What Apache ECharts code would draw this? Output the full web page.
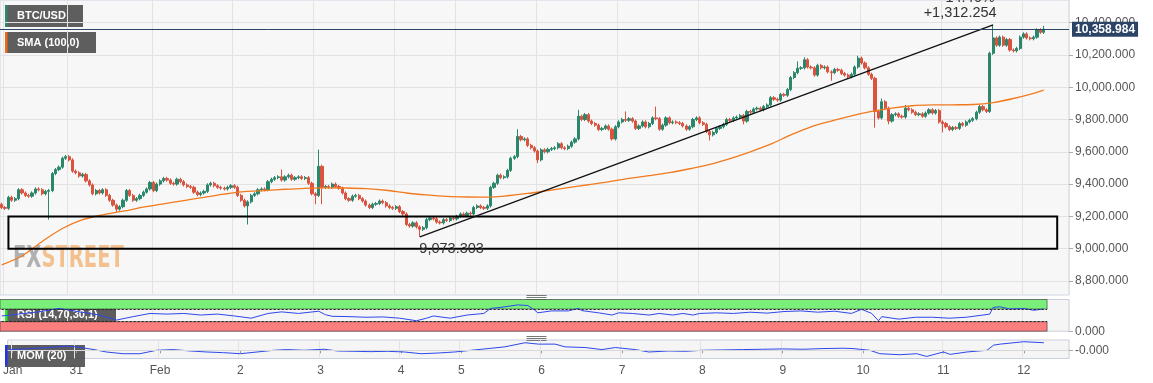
<!DOCTYPE html>
<html><head><meta charset="utf-8">
<script src="https://cdn.jsdelivr.net/npm/echarts@6/dist/echarts.min.js"></script>
<style>html,body{margin:0;padding:0;background:#fff;}#c{width:1153px;height:383px;}</style>
</head><body><div id="c"></div>
<script>
// ---- tick labels / categories ----
const dayLabels = ['Jan','31','Feb','2','3','4','5','6','7','8','9','10','11','12'];
const dayIdx = [1,20,45,69,93,117,135,159,183,207,231,255,279,303];
const slotCount = 317;

// ---- hourly BTC/USD closes ----
const firstOpen = 9275;
const closes = [
9255,9250,9318,9300,9310,9365,9345,9330,9325,9345,
9370,9365,9340,9355,9360,9465,9490,9505,9560,9570,
9550,9480,9470,9450,9460,9420,9395,9340,9360,9345,
9365,9330,9300,9270,9245,9260,9300,9360,9330,9300,
9310,9330,9350,9370,9410,9360,9400,9420,9435,9425,
9405,9400,9430,9415,9395,9385,9380,9350,9335,9345,
9355,9395,9405,9390,9380,9375,9370,9380,9390,9380,
9330,9300,9265,9290,9330,9340,9365,9370,9365,9415,
9430,9440,9445,9425,9445,9455,9430,9440,9445,9435,
9440,9405,9340,9330,9510,9380,9385,9380,9400,9385,
9375,9345,9310,9300,9325,9330,9310,9295,9270,9255,
9275,9280,9295,9285,9265,9255,9250,9260,9230,9215,
9150,9140,9160,9135,9120,9130,9180,9190,9185,9165,
9160,9180,9175,9190,9185,9200,9215,9205,9220,9215,
9255,9265,9255,9250,9265,9380,9405,9455,9440,9445,
9485,9560,9570,9695,9675,9680,9640,9625,9605,9550,
9612,9600,9615,9620,9625,9650,9625,9620,9635,9660,
9680,9820,9800,9830,9790,9775,9765,9738,9745,9760,
9740,9680,9755,9785,9800,9795,9805,9790,9745,9760,
9785,9755,9775,9810,9805,9740,9765,9810,9780,9785,
9780,9775,9760,9740,9755,9800,9810,9780,9770,9725,
9705,9720,9745,9755,9770,9800,9795,9810,9815,9825,
9790,9850,9845,9865,9870,9860,9880,9890,9935,9925,
9920,9955,9950,9985,10060,10090,10117,10120,10170,10125,
10120,10075,10135,10120,10125,10095,10090,10110,10105,10085,
10075,10065,10080,10125,10180,10150,10120,10080,10055,9850,
9810,9910,9870,9790,9830,9835,9820,9815,9870,9860,
9845,9830,9835,9820,9840,9860,9840,9855,9785,9775,
9755,9738,9750,9745,9775,9765,9785,9795,9805,9845,
9880,9860,9850,10210,10305,10260,10310,10260,10295,10230,
10225,10240,10310,10330,10305,10300,10310,10355,10340,10358.984
];
// notable wick extremes
const highX = {83:9490,94:9613,153:9740,171:9860,185:9850,194:9880,236:10160,238:10185,254:10195,261:9930,268:9890,294:10385.557,309:10380};
const lowX = {14:9180,34:9225,73:9150,93:9275,95:9275,124:9073.303,159:9530,210:9670,220:9770,246:10040,259:9750,263:9770,279:9720};
const wick = 10;

// SMA(100)
const smaIdx = [0,6,12,18,24,30,36,42,48,54,60,66,72,78,84,90,96,102,108,114,120,126,132,138,144,150,156,162,168,174,180,186,192,198,204,210,216,222,228,234,240,246,252,258,264,270,276,282,288,294,300,306,309];
const smaVal = [8900,8955,9045,9125,9180,9210,9232,9257,9278,9298,9318,9338,9354,9360,9368,9374,9377,9376,9372,9362,9345,9333,9324,9320,9319,9328,9342,9360,9378,9396,9414,9435,9452,9471,9495,9522,9558,9600,9647,9705,9755,9790,9823,9850,9871,9885,9890,9891,9893,9905,9930,9962,9982];

// RSI(14)
const rsiIdx = [0,5,11,17,23,29,34,39,44,49,54,59,64,69,74,79,83,88,94,96,98,103,108,113,118,123,126,128,133,138,143,145,148,153,156,158,159,163,168,171,172,177,181,183,187,192,195,199,202,205,207,212,217,222,227,232,237,242,247,252,255,258,260,261,266,271,276,281,286,291,293,294,296,299,303,306,309];
const rsiVal = [48,54,61,72,61,51,35,46,56,54,56,51,54,48,41,56,61,56,63,52,47,46,44,45,41,33,41,48,41,51,56,72,75,83,81,67,58,64,64,72,65,58,51,58,56,51,56,51,56,51,56,58,56,60,57,62,64,60,63,56,69,56,33,46,38,44,44,41,44,51,54,75,77,70,72,66,70];

// MOM(20)
const momIdx = [0,5,11,17,20,25,29,34,39,44,49,54,59,64,69,74,79,83,88,94,98,103,108,113,118,123,128,133,138,143,148,154,158,163,166,172,177,181,187,191,197,202,207,213,219,225,231,237,243,249,252,257,260,266,271,274,279,281,286,292,294,296,303,309];
const momVal = [50,80,150,240,200,50,-100,-200,-200,0,40,-40,-100,-140,-200,-100,0,40,0,60,-40,-60,-80,-60,-100,-200,-160,-100,0,100,200,440,360,360,200,160,40,160,40,-100,-40,-60,0,20,40,60,80,60,100,120,100,0,-200,-260,-200,-360,-100,-240,-100,0,300,360,500,440];

// annotations
const lowPoint = [124, 9073.303];
const highPoint = [294, 10385.557];
const lastPrice = 10358.984;
const boxLow = 9000, boxHigh = 9200, boxFrom = 2, boxTo = 313;
const rsiUpper = 70, rsiLower = 30, bandEnd = 310;

// ---- build ----
const fmt3 = v => v.toLocaleString('en-US',{minimumFractionDigits:3, maximumFractionDigits:3});
const cats = Array.from({length: slotCount}, (_, i) => String(i));
const candles = closes.map((c, i) => {
  const o = i === 0 ? firstOpen : closes[i-1];
  const hi = highX[i] !== undefined ? highX[i] : Math.max(o, c) + wick;
  const lo = lowX[i] !== undefined ? lowX[i] : Math.min(o, c) - wick;
  return [o, c, lo, hi];
});
const pairs = (a, b) => a.map((x, i) => [x, b[i]]);
const isDay = i => dayIdx.indexOf(i) >= 0;
const FONT = '"Liberation Sans", Arial, sans-serif';
const GREEN = '#2a876b', RED = '#d9533f';
const diff = highPoint[1] - lowPoint[1];
const pct = diff / lowPoint[1] * 100;

const gridL = 0, gridW = 1069;
const hiddenCat = (g, split) => ({
  gridIndex: g, type: 'category', data: cats, boundaryGap: true,
  axisLine: {show: false}, axisTick: {show: false}, axisLabel: {show: false},
  splitLine: {show: split, interval: (i) => isDay(i), lineStyle: {color: '#e3e3e3'}}
});

const chart = echarts.init(document.getElementById('c'), null, {renderer: 'canvas'});
chart.setOption({
  animation: false,
  textStyle: {fontFamily: FONT},
  grid: [
    {left: gridL, width: gridW, top: 0, height: 295, show: true, backgroundColor: '#f7f7f7', borderColor: '#d0d5e4', borderWidth: 1},
    {left: gridL, width: gridW, top: 22.6, height: 258.4},
    {left: gridL, width: gridW, top: 299.5, height: 31.7, show: true, backgroundColor: '#f5f5f5', borderColor: '#c9cfe0', borderWidth: 1},
    {left: gridL, width: gridW, top: 340, height: 18.5, show: true, backgroundColor: '#f5f5f5', borderColor: '#c9cfe0', borderWidth: 1}
  ],
  xAxis: [
    hiddenCat(0, true),
    hiddenCat(1, false),
    hiddenCat(2, true),
    {
      gridIndex: 3, type: 'category', data: cats, boundaryGap: true,
      axisLine: {show: false},
      axisTick: {show: true, length: 3, alignWithLabel: true, interval: (i) => isDay(i), lineStyle: {color: '#999'}},
      axisLabel: {show: true, interval: (i) => isDay(i), margin: 6, color: '#555', fontSize: 12,
        formatter: (v, i) => { const k = dayIdx.indexOf(i); return k >= 0 ? dayLabels[k] : ''; }},
      splitLine: {show: true, interval: (i) => isDay(i), lineStyle: {color: '#e3e3e3'}}
    }
  ],
  yAxis: [
    {gridIndex: 0, type: 'value', min: 0, max: 1, show: false},
    {gridIndex: 1, type: 'value', position: 'right', min: 8800, max: 10400, interval: 200,
      axisLine: {show: false}, axisTick: {show: true, length: 4, lineStyle: {color: '#aaa'}},
      axisLabel: {margin: 6, color: '#555', fontSize: 12, formatter: v => fmt3(v)},
      splitLine: {show: true, lineStyle: {color: '#e2e2e2'}}},
    {gridIndex: 2, type: 'value', position: 'right', min: 0, max: 100,
      axisLine: {show: false},
      axisTick: {show: true, length: 4, customValues: [0], lineStyle: {color: '#aaa'}},
      axisLabel: {margin: 6, color: '#555', fontSize: 12, customValues: [0], formatter: v => v === 0 ? '0.000' : ''},
      splitLine: {show: false}},
    {gridIndex: 3, type: 'value', position: 'right', min: -480, max: 600,
      axisLine: {show: false},
      axisTick: {show: true, length: 4, customValues: [0], lineStyle: {color: '#aaa'}},
      axisLabel: {margin: 6, color: '#555', fontSize: 12, customValues: [0], formatter: v => v === 0 ? '-0.000' : ''},
      splitLine: {show: false}}
  ],
  series: [
    {
      name: 'BTC/USD', type: 'candlestick', xAxisIndex: 1, yAxisIndex: 1,
      data: candles, barWidth: 2.7,
      itemStyle: {color: GREEN, color0: RED, borderColor: GREEN, borderColor0: RED, borderWidth: 1},
      markArea: {
        silent: true, z: 4,
        itemStyle: {color: 'rgba(0,0,0,0)', borderColor: '#000', borderWidth: 2},
        data: [[{coord: [boxFrom, boxHigh]}, {coord: [boxTo, boxLow]}]]
      },
      markLine: {
        silent: true, symbol: ['none', 'none'],
        data: [
          [{coord: lowPoint, lineStyle: {color: '#111', width: 1.3, type: 'solid'}, label: {show: false}},
           {coord: highPoint}],
          {yAxis: lastPrice, lineStyle: {color: '#2b4466', width: 1, type: 'solid'},
            label: {show: true, position: 'end', distance: 3, formatter: fmt3(lastPrice),
              color: '#fff', fontWeight: 'bold', fontSize: 12, backgroundColor: '#2b4466', padding: [2, 3, 1, 3]}}
        ]
      },
      markPoint: {
        silent: true, symbol: 'circle', symbolSize: 1, itemStyle: {color: 'rgba(0,0,0,0)'},
        data: [
          {coord: lowPoint, label: {show: true, formatter: fmt3(lowPoint[1]), position: [0, 5], align: 'left', verticalAlign: 'top', color: '#333', fontSize: 14.5}},
          {coord: highPoint, label: {show: true, formatter: '+' + fmt3(diff), position: [4, -11], align: 'right', verticalAlign: 'middle', color: '#333', fontSize: 14.5}},
          {coord: highPoint, label: {show: true, formatter: pct.toFixed(2) + '%', position: [2, -26], align: 'right', verticalAlign: 'middle', color: '#333', fontSize: 14.5}}
        ]
      }
    },
    {
      name: 'SMA (100,0)', type: 'line', xAxisIndex: 1, yAxisIndex: 1,
      data: pairs(smaIdx, smaVal), showSymbol: false, smooth: 0.3,
      lineStyle: {color: '#f27a1e', width: 1.3}
    },
    {
      name: 'RSI', type: 'line', xAxisIndex: 2, yAxisIndex: 2,
      data: pairs(rsiIdx, rsiVal), showSymbol: false,
      lineStyle: {color: '#2c48ec', width: 1}, z: 3,
      markArea: {
        silent: true,
        data: [
          [{yAxis: rsiUpper, itemStyle: {color: '#7af07a', borderColor: '#333', borderWidth: 0.6}}, {xAxis: bandEnd, yAxis: 100}],
          [{yAxis: 0, itemStyle: {color: '#fb7e7e', borderColor: '#333', borderWidth: 0.6}}, {xAxis: bandEnd, yAxis: rsiLower}]
        ]
      },
      markLine: {
        silent: true, symbol: ['none', 'none'], label: {show: false},
        lineStyle: {color: '#222', width: 1, type: [2, 2]},
        data: [
          [{coord: [0, rsiUpper]}, {coord: [bandEnd, rsiUpper]}],
          [{coord: [0, rsiLower]}, {coord: [bandEnd, rsiLower]}]
        ]
      }
    },
    {
      name: 'MOM', type: 'line', xAxisIndex: 3, yAxisIndex: 3,
      data: pairs(momIdx, momVal), showSymbol: false,
      lineStyle: {color: '#2c48ec', width: 1}, z: 3,
      markLine: {
        silent: true, symbol: ['none', 'none'], label: {show: false},
        lineStyle: {color: '#d8d8d8', width: 1, type: 'solid'},
        data: [{yAxis: 0}]
      }
    }
  ],
  graphic: [
    // watermark
    {type: 'text', left: 13, top: 243, z: 0, silent: true, scaleX: 0.70,
      style: {text: '{a|FX}{b|STREET}', rich: {
        a: {fill: 'rgba(120,120,120,0.55)', font: 'bold 31px "Liberation Sans Narrow", "DejaVu Sans Condensed", sans-serif'},
        b: {fill: 'rgba(240,150,60,0.55)', font: 'bold 31px "Liberation Sans Narrow", "DejaVu Sans Condensed", sans-serif'}}}},
    // legend boxes
    {type: 'group', left: 5, top: 5, z: 100, children: [
      {type: 'rect', shape: {x: 0, y: 0, width: 78, height: 22}, style: {fill: '#5e5e5e'}},
      {type: 'rect', shape: {x: 0, y: 0, width: 2.5, height: 22}, style: {fill: GREEN}},
      {type: 'text', x: 12, y: 11, style: {text: 'BTC/USD', fill: '#fff', font: 'bold 11px ' + FONT, verticalAlign: 'middle'}}
    ]},
    {type: 'group', left: 5, top: 32, z: 100, children: [
      {type: 'rect', shape: {x: 0, y: 0, width: 91, height: 21}, style: {fill: '#5e5e5e'}},
      {type: 'rect', shape: {x: 0, y: 0, width: 2.5, height: 21}, style: {fill: '#ec6a12'}},
      {type: 'text', x: 12, y: 10.5, style: {text: 'SMA (100,0)', fill: '#fff', font: 'bold 11px ' + FONT, verticalAlign: 'middle'}}
    ]},
    {type: 'group', left: 5, top: 304, z: 100, children: [
      {type: 'rect', shape: {x: 0, y: 0, width: 111, height: 22}, style: {fill: 'rgba(60,60,60,0.82)'}},
      {type: 'rect', shape: {x: 0, y: 0, width: 2.5, height: 22}, style: {fill: '#22ee22'}},
      {type: 'text', x: 12, y: 11, style: {text: 'RSI (14,70,30,1)', fill: '#fff', font: 'bold 11px ' + FONT, verticalAlign: 'middle'}}
    ]},
    {type: 'group', left: 5, top: 345, z: 100, children: [
      {type: 'rect', shape: {x: 0, y: 0, width: 80, height: 22}, style: {fill: 'rgba(60,60,60,0.82)'}},
      {type: 'rect', shape: {x: 0, y: 0, width: 2.5, height: 22}, style: {fill: '#2233ee'}},
      {type: 'text', x: 12, y: 11, style: {text: 'MOM (20)', fill: '#fff', font: 'bold 11px ' + FONT, verticalAlign: 'middle'}}
    ]},
    // pane resize handles
    {type: 'group', left: 524, top: 293, z: 100, silent: true, children: [
      {type: 'line', shape: {x1: 0, y1: 0.5, x2: 20, y2: 0.5}, style: {stroke: '#777', lineWidth: 1}},
      {type: 'line', shape: {x1: 0, y1: 2.5, x2: 20, y2: 2.5}, style: {stroke: '#777', lineWidth: 1}},
      {type: 'line', shape: {x1: 0, y1: 4.5, x2: 20, y2: 4.5}, style: {stroke: '#777', lineWidth: 1}}
    ]},
    {type: 'group', left: 524, top: 334, z: 100, silent: true, children: [
      {type: 'line', shape: {x1: 0, y1: 0.5, x2: 20, y2: 0.5}, style: {stroke: '#777', lineWidth: 1}},
      {type: 'line', shape: {x1: 0, y1: 2.5, x2: 20, y2: 2.5}, style: {stroke: '#777', lineWidth: 1}},
      {type: 'line', shape: {x1: 0, y1: 4.5, x2: 20, y2: 4.5}, style: {stroke: '#777', lineWidth: 1}}
    ]}
  ]
});
</script>
</body></html>
